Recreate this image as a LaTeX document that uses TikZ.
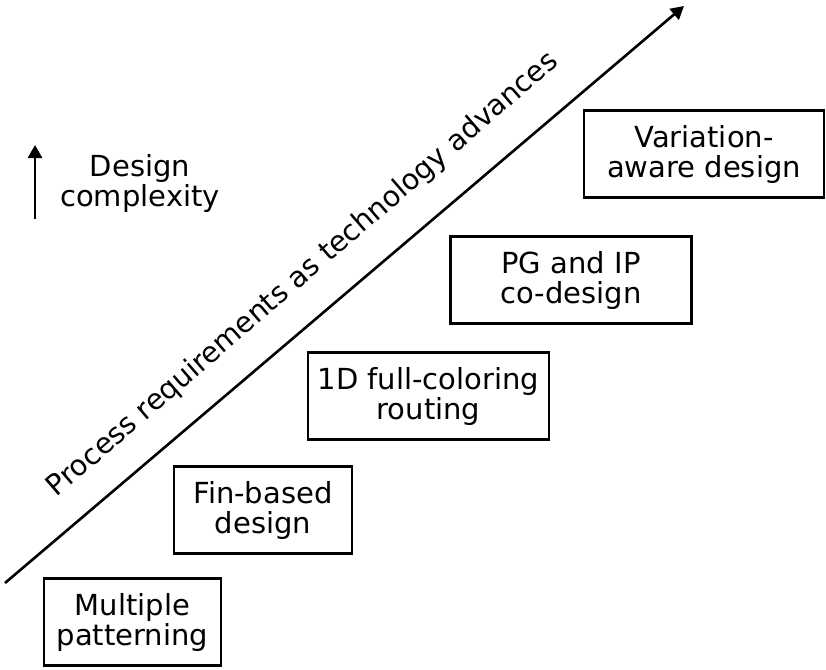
\documentclass[tikz,border=0pt]{standalone}
\usepackage{fontspec}
\setmainfont{DejaVu Sans}
\usepackage{tikz}
\usetikzlibrary{arrows.meta,positioning}
\tikzstyle{stage} = [rectangle, draw=black, line width=1.1pt, minimum height=43.5pt, align=center, font=\fontsize{14.5}{15}\selectfont]
\tikzstyle{arrow} = [line width=1.3pt,-{Triangle[length=6.5pt,width=7pt]}]

\begin{document}
\begin{tikzpicture}[x=0.5pt, y=-0.5pt]
                                \useasboundingbox (0,0) rectangle (826,670);
                                \node (MP) [stage, minimum width=88.5pt] at (132.5,622) {Multiple\\patterning};
                                \node (FB) [stage, minimum width=89pt] at (263,510) {Fin-based\\design};
                                \node (FC) [stage, minimum width=120.5pt] at (428.5,396) {1D full-coloring\\routing};
                                \node (PG) [stage, minimum width=120.5pt] at (571,280) {PG and IP\\co-design};
                                \node (VA) [stage, minimum width=120pt] at (704,154) {Variation-\\aware design};
                                \coordinate (start) at (5,583);
                                \coordinate (end) at (684,6);
                                \draw [arrow] (start) -- (end);
                                \node (process) [rotate=40.8, font=\fontsize{14.3}{15}\selectfont] at (303,275) {Process requirements as technology advances};
                                \coordinate (low) at (35,219);
                                \coordinate (high) at (35,145);
                                \draw [arrow] (low) -- (high);
                                \node (complexity) [align=center, font=\fontsize{14.5}{15}\selectfont] at (140,183) {Design\\complexity};
                            \end{tikzpicture}
\end{document}
